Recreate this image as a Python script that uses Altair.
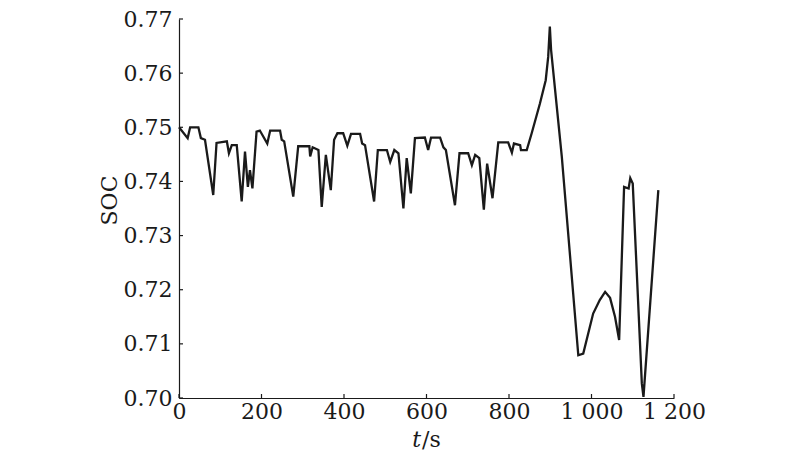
import altair as alt
import pandas as pd

# time (s)
t_values = [0, 21, 27, 47, 53, 63, 83, 91, 116, 121, 128, 140, 152, 160, 167, 172, 178, 188,
            196, 214, 221, 245, 249, 255, 277, 289, 316, 318, 324, 338, 346, 356, 368, 376,
            384, 398, 408, 417, 439, 444, 451, 473, 482, 504, 512, 522, 532, 544, 552, 562,
            572, 596, 604, 611, 633, 641, 647, 669, 680, 701, 710, 718, 728, 739, 747, 760,
            774, 798, 807, 812, 827, 829, 843, 855, 875, 889, 895, 899, 902, 928, 968, 980,
            1004, 1020, 1033, 1045, 1057, 1067, 1079, 1090, 1094, 1100, 1122, 1126, 1162]
# state of charge
soc_values = [0.7500, 0.7480, 0.7500, 0.7500, 0.7480, 0.7477, 0.7375, 0.7471, 0.7474, 0.7452,
              0.7467, 0.7467, 0.7363, 0.7455, 0.7390, 0.7421, 0.7387, 0.7492,
              0.7494, 0.7470, 0.7494, 0.7494, 0.7477, 0.7474, 0.7372, 0.7465, 0.7465, 0.7446,
              0.7463, 0.7458, 0.7353, 0.7449, 0.7384, 0.7477,
              0.7489, 0.7489, 0.7466, 0.7488, 0.7488, 0.7470, 0.7467, 0.7363, 0.7458, 0.7458,
              0.7436, 0.7458, 0.7452, 0.7350, 0.7443, 0.7378,
              0.7480, 0.7481, 0.7458, 0.7481, 0.7481, 0.7463, 0.7458, 0.7356, 0.7452, 0.7452,
              0.7430, 0.7449, 0.7443, 0.7348, 0.7433, 0.7369,
              0.7472, 0.7472, 0.7453, 0.7470, 0.7467, 0.7458, 0.7458, 0.7489, 0.7544, 0.7587,
              0.7630, 0.7686, 0.7643, 0.7446, 0.7079, 0.7082,
              0.7156, 0.7181, 0.7196, 0.7185, 0.7150, 0.7107, 0.7390, 0.7387, 0.7406, 0.7396,
              0.7027, 0.7002, 0.7384]

x_ticks = [0, 200, 400, 600, 800, 1000, 1200]
y_ticks = [0.70, 0.71, 0.72, 0.73, 0.74, 0.75, 0.76, 0.77]

W, H = 495, 379
FONT = "DejaVu Serif"
INK = "#1a1a1a"

df = pd.DataFrame({"t": t_values, "soc": soc_values})
xt = pd.DataFrame({"t": x_ticks})
yt = pd.DataFrame({"soc": y_ticks})

X = alt.X("t:Q", title="",
          scale=alt.Scale(domain=[0, 1200], nice=False, zero=False),
          axis=alt.Axis(values=x_ticks, labelExpr="replace(format(datum.value, ','), ',', ' ')",
                        grid=False, ticks=False, tickSize=0, labelPadding=3,
                        labelFont=FONT, labelFontSize=22, labelColor=INK,
                        labelFlush=False, labelOverlap=False,
                        domainColor=INK, domainWidth=1.2))
Y = alt.Y("soc:Q", title="SOC",
          scale=alt.Scale(domain=[0.70, 0.77], nice=False, zero=False),
          axis=alt.Axis(values=y_ticks, format=".2f", grid=False, ticks=False, tickSize=0,
                        labelPadding=7, labelFont=FONT, labelFontSize=22, labelColor=INK,
                        labelOverlap=False, domainColor=INK, domainWidth=1.2,
                        titleFont=FONT, titleFontSize=22, titleFontWeight="normal",
                        titleColor=INK, titleAngle=270, titleX=-70, titleY=181,
                        titleAlign="center", titleBaseline="middle"))

line = alt.Chart(df).mark_line(color=INK, strokeWidth=2.3).encode(x=X, y=Y)

xtick = alt.Chart(xt).mark_rule(color=INK, strokeWidth=1.2).encode(
    x=X, y=alt.value(H), y2=alt.value(H - 4))
ytick = alt.Chart(yt).mark_rule(color=INK, strokeWidth=1.2).encode(
    y=Y, x=alt.value(0), x2=alt.value(4))

one = pd.DataFrame({"k": [0]})
t_text = alt.Chart(one).mark_text(text="t", font=FONT, fontSize=22, fontStyle="italic",
                                  color=INK, align="right", baseline="middle").encode(
    x=alt.value(242), y=alt.value(421))
s_text = alt.Chart(one).mark_text(text="/s", font=FONT, fontSize=22,
                                  color=INK, align="left", baseline="middle").encode(
    x=alt.value(243), y=alt.value(421))

chart = alt.layer(line, xtick, ytick, t_text, s_text).properties(
    width=W, height=H,
    padding={"left": 171, "top": 11, "right": 118, "bottom": 60},
    autosize=alt.AutoSizeParams(type="none"),
    background="white",
).configure_view(stroke=None)

chart.save("out.html", embed_options={"renderer": "svg", "actions": False})
